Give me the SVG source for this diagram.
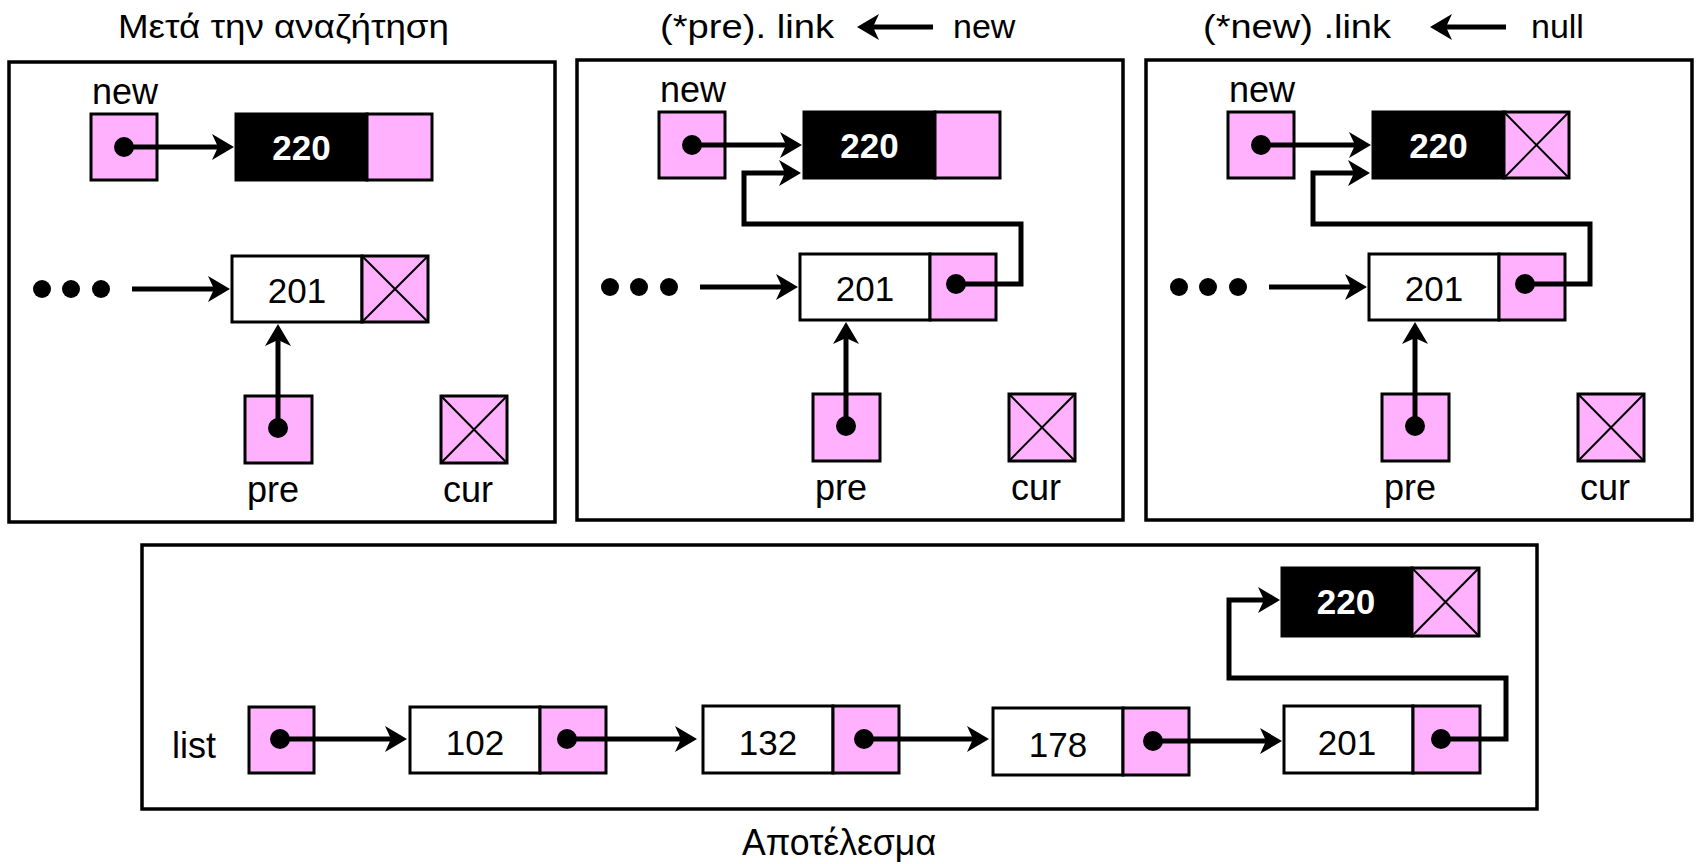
<svg xmlns="http://www.w3.org/2000/svg" width="1702" height="864" viewBox="0 0 1702 864">
  <style>
    text { font-family: "Liberation Sans", Arial, sans-serif; font-size: 36px; fill: #000; }
    .title { font-size: 34px; }
    .val { text-anchor: middle; font-size: 35px; }
    .key { text-anchor: middle; font-weight: bold; fill: #fff; font-size: 35px; }
    .frame { fill: #fff; stroke: #000; stroke-width: 3.5; }
    .cell { fill: #fff; stroke: #000; stroke-width: 3; }
    .ptr { fill: #ffb1fd; stroke: #000; stroke-width: 3; }
    .dark { fill: #000; stroke: #000; stroke-width: 3; }
    .cross { fill: none; stroke: #000; stroke-width: 2; }
    .link { fill: none; stroke: #000; stroke-width: 5; marker-end: url(#head); }
    .dot { fill: #000; }
  </style>
  <defs>
    <!-- stealth arrowhead; tip sits 12 units past the end of the line -->
    <marker id="head" markerUnits="userSpaceOnUse" viewBox="-25 -15 27 30" markerWidth="27" markerHeight="30" refX="-12" refY="0" orient="auto">
      <path d="M0,0 L-22,-13 L-16,0 L-22,13 Z" fill="#000"/>
    </marker>
  </defs>

  <rect width="1702" height="864" fill="#fff"/>

  <!-- step titles -->
  <text class="title" x="118" y="38" textLength="331" lengthAdjust="spacingAndGlyphs">Μετά την αναζήτηση</text>
  <g id="title-step2">
    <text class="title" x="660" y="38" textLength="174" lengthAdjust="spacingAndGlyphs">(*pre). link</text>
    <path class="link" d="M933,27 H869"/>
    <text class="title" x="953" y="38">new</text>
  </g>
  <g id="title-step3">
    <text class="title" x="1203" y="38" textLength="188" lengthAdjust="spacingAndGlyphs">(*new) .link</text>
    <path class="link" d="M1506,27 H1442"/>
    <text class="title" x="1531" y="38">null</text>
  </g>

  <!-- ===== step 1: after the search ===== -->
  <g id="panel-search" transform="translate(9,0)">
    <rect class="frame" x="0" y="62" width="546" height="460"/>
    <g id="s1-new">
      <text x="83" y="104">new</text>
      <rect class="ptr" x="82" y="114" width="66" height="66"/>
    </g>
    <g id="s1-node220">
      <rect class="dark" x="227" y="114" width="131" height="66"/>
      <rect class="ptr" x="358" y="114" width="65" height="66"/>
      <text class="key" x="292.5" y="160">220</text>
    </g>
    <g id="s1-node201">
      <rect class="cell" x="223" y="256" width="130" height="66"/>
      <rect class="ptr" x="353" y="256" width="66" height="66"/>
      <path class="cross" d="M353,256 L419,322 M419,256 L353,322"/>
      <text class="val" x="288" y="303">201</text>
    </g>
    <g id="s1-pre">
      <rect class="ptr" x="236" y="396" width="67" height="67"/>
      <text x="238" y="502">pre</text>
    </g>
    <g id="s1-cur">
      <rect class="ptr" x="432" y="396" width="66" height="67"/>
      <path class="cross" d="M432,396 L498,463 M498,396 L432,463"/>
      <text x="434" y="502">cur</text>
    </g>
    <g id="s1-links">
      <circle class="dot" cx="33" cy="289" r="9"/>
      <circle class="dot" cx="62" cy="289" r="9"/>
      <circle class="dot" cx="92" cy="289" r="9"/>
      <path class="link" d="M123,289 H209"/>
      <path class="link" d="M115,147 H213"/>
      <circle class="dot" cx="115" cy="147" r="10"/>
      <path class="link" d="M269,428 V336"/>
      <circle class="dot" cx="269" cy="428" r="10"/>
    </g>
  </g>

  <!-- ===== step 2: (*pre).link <- new ===== -->
  <g id="panel-link-pre" transform="translate(577,-2)">
    <rect class="frame" x="0" y="62" width="546" height="460"/>
    <g id="s2-new">
      <text x="83" y="104">new</text>
      <rect class="ptr" x="82" y="114" width="66" height="66"/>
    </g>
    <g id="s2-node220">
      <rect class="dark" x="227" y="114" width="131" height="66"/>
      <rect class="ptr" x="358" y="114" width="65" height="66"/>
      <text class="key" x="292.5" y="160">220</text>
    </g>
    <g id="s2-node201">
      <rect class="cell" x="223" y="256" width="130" height="66"/>
      <rect class="ptr" x="353" y="256" width="66" height="66"/>
      <text class="val" x="288" y="303">201</text>
    </g>
    <g id="s2-pre">
      <rect class="ptr" x="236" y="396" width="67" height="67"/>
      <text x="238" y="502">pre</text>
    </g>
    <g id="s2-cur">
      <rect class="ptr" x="432" y="396" width="66" height="67"/>
      <path class="cross" d="M432,396 L498,463 M498,396 L432,463"/>
      <text x="434" y="502">cur</text>
    </g>
    <g id="s2-links">
      <circle class="dot" cx="33" cy="289" r="9"/>
      <circle class="dot" cx="62" cy="289" r="9"/>
      <circle class="dot" cx="92" cy="289" r="9"/>
      <path class="link" d="M123,289 H209"/>
      <path class="link" d="M115,147 H213"/>
      <circle class="dot" cx="115" cy="147" r="10"/>
      <path class="link" d="M269,428 V336"/>
      <circle class="dot" cx="269" cy="428" r="10"/>
      <path class="link" d="M379,286 H444 V226 H167 V175 H212"/>
      <circle class="dot" cx="379" cy="286" r="10"/>
    </g>
  </g>

  <!-- ===== step 3: (*new).link <- null ===== -->
  <g id="panel-link-new" transform="translate(1146,-2)">
    <rect class="frame" x="0" y="62" width="546" height="460"/>
    <g id="s3-new">
      <text x="83" y="104">new</text>
      <rect class="ptr" x="82" y="114" width="66" height="66"/>
    </g>
    <g id="s3-node220">
      <rect class="dark" x="227" y="114" width="131" height="66"/>
      <rect class="ptr" x="358" y="114" width="65" height="66"/>
      <path class="cross" d="M358,114 L423,180 M423,114 L358,180"/>
      <text class="key" x="292.5" y="160">220</text>
    </g>
    <g id="s3-node201">
      <rect class="cell" x="223" y="256" width="130" height="66"/>
      <rect class="ptr" x="353" y="256" width="66" height="66"/>
      <text class="val" x="288" y="303">201</text>
    </g>
    <g id="s3-pre">
      <rect class="ptr" x="236" y="396" width="67" height="67"/>
      <text x="238" y="502">pre</text>
    </g>
    <g id="s3-cur">
      <rect class="ptr" x="432" y="396" width="66" height="67"/>
      <path class="cross" d="M432,396 L498,463 M498,396 L432,463"/>
      <text x="434" y="502">cur</text>
    </g>
    <g id="s3-links">
      <circle class="dot" cx="33" cy="289" r="9"/>
      <circle class="dot" cx="62" cy="289" r="9"/>
      <circle class="dot" cx="92" cy="289" r="9"/>
      <path class="link" d="M123,289 H209"/>
      <path class="link" d="M115,147 H213"/>
      <circle class="dot" cx="115" cy="147" r="10"/>
      <path class="link" d="M269,428 V336"/>
      <circle class="dot" cx="269" cy="428" r="10"/>
      <path class="link" d="M379,286 H444 V226 H167 V175 H212"/>
      <circle class="dot" cx="379" cy="286" r="10"/>
    </g>
  </g>

  <!-- ===== result: the full list ===== -->
  <g id="panel-result">
    <rect class="frame" x="142" y="545" width="1395" height="264"/>
    <g id="r-list">
      <text x="172" y="758">list</text>
      <rect class="ptr" x="249" y="707" width="65" height="66"/>
    </g>
    <g id="r-node102">
      <rect class="cell" x="410" y="707" width="130" height="66"/>
      <rect class="ptr" x="540" y="707" width="66" height="66"/>
      <text class="val" x="475" y="755">102</text>
    </g>
    <g id="r-node132">
      <rect class="cell" x="703" y="706" width="130" height="67"/>
      <rect class="ptr" x="833" y="706" width="66" height="67"/>
      <text class="val" x="768" y="755">132</text>
    </g>
    <g id="r-node178">
      <rect class="cell" x="993" y="708" width="130" height="67"/>
      <rect class="ptr" x="1123" y="708" width="66" height="67"/>
      <text class="val" x="1058" y="757">178</text>
    </g>
    <g id="r-node201">
      <rect class="cell" x="1284" y="706" width="129" height="67"/>
      <rect class="ptr" x="1413" y="706" width="67" height="67"/>
      <text class="val" x="1347" y="755">201</text>
    </g>
    <g id="r-node220">
      <rect class="dark" x="1282" y="568" width="130" height="68"/>
      <rect class="ptr" x="1412" y="568" width="67" height="68"/>
      <path class="cross" d="M1412,568 L1479,636 M1479,568 L1412,636"/>
      <text class="key" x="1346" y="614">220</text>
    </g>
    <g id="r-links">
      <path class="link" d="M280,739 H395"/>
      <circle class="dot" cx="280" cy="739" r="10"/>
      <path class="link" d="M567,739 H685"/>
      <circle class="dot" cx="567" cy="739" r="10"/>
      <path class="link" d="M864,739 H977"/>
      <circle class="dot" cx="864" cy="739" r="10"/>
      <path class="link" d="M1153,741 H1270"/>
      <circle class="dot" cx="1153" cy="741" r="10"/>
      <path class="link" d="M1441,739 H1506 V678 H1229 V600 H1268"/>
      <circle class="dot" cx="1441" cy="739" r="10"/>
    </g>
  </g>
  <text x="839" y="855" text-anchor="middle" textLength="194" lengthAdjust="spacingAndGlyphs">Αποτέλεσμα</text>
</svg>
